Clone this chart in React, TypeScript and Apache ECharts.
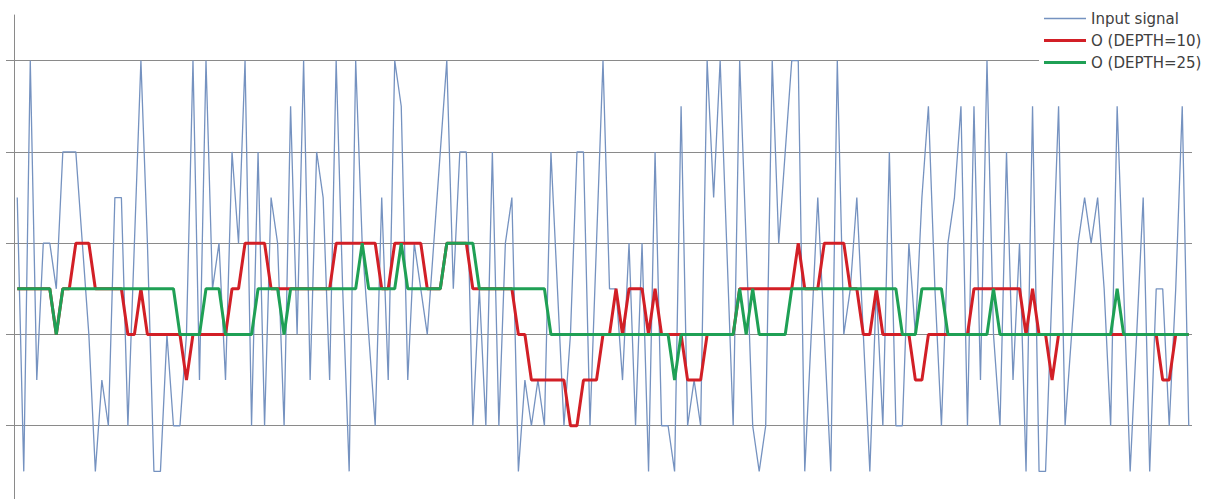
import React, { useEffect, useRef } from "react";
import * as echarts from "echarts";

const inputSignal: number[] = [
  5, -1, 8, 1, 4, 4, 3, 6, 6, 6,
  4, 2, -1, 1, 0, 5, 5, 0, 4, 8,
  4, -1, -1, 2, 0, 0, 2, 8, 1, 8,
  3, 4, 1, 6, 4, 8, 0, 6, 0, 5,
  4, 0, 7, 2, 8, 1, 6, 5, 1, 8,
  3, -1, 8, 4, 2, 0, 5, 1, 8, 7,
  1, 4, 3, 2, 4, 6, 8, 3, 6, 6,
  0, 3, 0, 6, 0, 4, 5, -1, 1, 0,
  1, 0, 6, 3, 0, 2, 6, 6, 0, 4,
  8, 3, 3, 1, 4, 0, 4, -1, 6, 0,
  0, -1, 7, 0, 1, 0, 8, 5, 8, 4,
  0, 8, 4, 0, -1, 0, 8, 4, 6, 8,
  8, -1, 2, 5, 2, -1, 8, 2, 3, 5,
  2, -1, 3, 0, 6, 0, 0, 4, 2, 5,
  7, 3, 0, 4, 5, 7, 0, 7, 1, 8,
  2, 0, 6, 1, 4, -1, 7, -1, -1, 3,
  7, 0, 2, 4, 5, 4, 5, 3, 0, 7,
  3, -1, 2, 5, -1, 3, 3, 0, 3, 7,
  0,
];

const depth10: number[] = [
  3, 3, 3, 3, 3, 3, 2, 3, 3, 4,
  4, 4, 3, 3, 3, 3, 3, 2, 2, 3,
  2, 2, 2, 2, 2, 2, 1, 2, 2, 2,
  2, 2, 2, 3, 3, 4, 4, 4, 4, 3,
  3, 3, 3, 3, 3, 3, 3, 3, 3, 4,
  4, 4, 4, 4, 4, 4, 3, 3, 4, 4,
  4, 4, 4, 3, 3, 3, 4, 4, 4, 4,
  3, 3, 3, 3, 3, 3, 3, 2, 2, 1,
  1, 1, 1, 1, 1, 0, 0, 1, 1, 1,
  2, 2, 3, 2, 3, 3, 3, 2, 3, 2,
  2, 2, 2, 1, 1, 1, 2, 2, 2, 2,
  2, 3, 3, 3, 3, 3, 3, 3, 3, 3,
  4, 3, 3, 3, 4, 4, 4, 4, 3, 3,
  2, 2, 3, 2, 2, 2, 2, 2, 1, 1,
  2, 2, 2, 2, 2, 2, 2, 3, 3, 3,
  3, 3, 3, 3, 3, 2, 3, 2, 2, 1,
  2, 2, 2, 2, 2, 2, 2, 2, 2, 2,
  2, 2, 2, 2, 2, 2, 1, 1, 2, 2,
  2,
];

const depth25: number[] = [
  3, 3, 3, 3, 3, 3, 2, 3, 3, 3,
  3, 3, 3, 3, 3, 3, 3, 3, 3, 3,
  3, 3, 3, 3, 3, 2, 2, 2, 2, 3,
  3, 3, 2, 2, 2, 2, 2, 3, 3, 3,
  3, 2, 3, 3, 3, 3, 3, 3, 3, 3,
  3, 3, 3, 4, 3, 3, 3, 3, 3, 4,
  3, 3, 3, 3, 3, 3, 4, 4, 4, 4,
  4, 3, 3, 3, 3, 3, 3, 3, 3, 3,
  3, 3, 2, 2, 2, 2, 2, 2, 2, 2,
  2, 2, 2, 2, 2, 2, 2, 2, 2, 2,
  2, 1, 2, 2, 2, 2, 2, 2, 2, 2,
  2, 3, 2, 3, 2, 2, 2, 2, 2, 3,
  3, 3, 3, 3, 3, 3, 3, 3, 3, 3,
  3, 3, 3, 3, 3, 3, 2, 2, 2, 3,
  3, 3, 3, 2, 2, 2, 2, 2, 2, 2,
  3, 2, 2, 2, 2, 2, 2, 2, 2, 2,
  2, 2, 2, 2, 2, 2, 2, 2, 2, 3,
  2, 2, 2, 2, 2, 2, 2, 2, 2, 2,
  2,
];

const seriesNames = ["Input signal", "O (DEPTH=10)", "O (DEPTH=25)"];
const yTicks: number[] = [-2, 0, 2, 4, 6, 8];
const categories: string[] = inputSignal.map((_, i) => String(i + 1));

const BLUE = "#7592c0";
const RED = "#d21f26";
const GREEN = "#1fa055";
const GRID = "#8a8a8a";

export default function App() {
  const ref = useRef<HTMLDivElement>(null);

  useEffect(() => {
    if (!ref.current) return;
    const chart = echarts.init(ref.current, undefined, { renderer: "svg" });
    chart.setOption({
      animation: false,
      backgroundColor: "#ffffff",
      grid: { left: 14, right: 29, top: 15, bottom: 13, outerBoundsMode: "none", containLabel: false },
      legend: {
        orient: "vertical",
        left: 1039,
        top: 6,
        itemWidth: 42,
        itemHeight: 14,
        itemGap: 7,
        symbolKeepAspect: true,
        backgroundColor: "#ffffff",
        textStyle: { color: "#404040", fontSize: 15, fontFamily: "'DejaVu Sans', sans-serif" },
        data: [
          { name: seriesNames[0], icon: "path://M0,0H42V1.3H0Z" },
          { name: seriesNames[1], icon: "path://M0,0H42V3H0Z" },
          { name: seriesNames[2], icon: "path://M0,0H42V3H0Z" },
        ],
      },
      xAxis: {
        type: "category",
        data: categories,
        boundaryGap: true,
        axisLine: { show: false },
        axisTick: { show: false },
        axisLabel: { show: false },
        splitLine: { show: false },
      },
      yAxis: {
        type: "value",
        min: -2,
        max: 9,
        interval: 1,
        axisLine: { show: true, lineStyle: { color: GRID, width: 1 } },
        axisTick: { show: true, inside: false, length: 8, customValues: yTicks, lineStyle: { color: GRID } },
        axisLabel: { show: false },
        splitLine: { show: false },
      },
      series: [
        {
          name: seriesNames[0],
          type: "line",
          data: inputSignal,
          symbol: "none",
          showSymbol: false,
          lineStyle: { color: BLUE, width: 1.3 },
          itemStyle: { color: BLUE },
          z: 2,
          markLine: {
            silent: true,
            symbol: "none",
            label: { show: false },
            lineStyle: { color: GRID, width: 1, type: "solid" },
            data: yTicks.map((v) => ({ yAxis: v })),
            z: 1,
          },
        },
        {
          name: seriesNames[1],
          type: "line",
          data: depth10,
          symbol: "none",
          showSymbol: false,
          lineStyle: { color: RED, width: 3 },
          itemStyle: { color: RED },
          z: 3,
        },
        {
          name: seriesNames[2],
          type: "line",
          data: depth25,
          symbol: "none",
          showSymbol: false,
          lineStyle: { color: GREEN, width: 3 },
          itemStyle: { color: GREEN },
          z: 4,
        },
      ],
    });
    return () => chart.dispose();
  }, []);

  return (
    <div
      ref={ref}
      style={{ position: "fixed", left: 0, top: 0, width: 1221, height: 530, background: "#fff" }}
    />
  );
}
